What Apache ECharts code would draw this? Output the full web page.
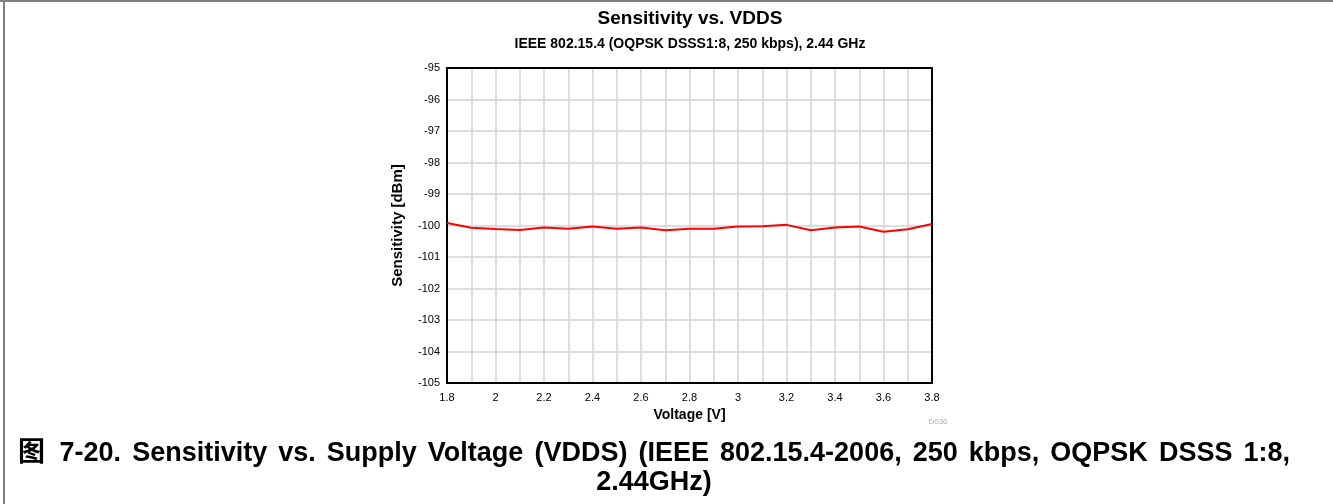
<!DOCTYPE html>
<html>
<head>
<meta charset="utf-8">
<script src="https://cdn.jsdelivr.net/npm/echarts@6/dist/echarts.min.js"></script>
<style>
  html, body { margin: 0; padding: 0; background: #fff; }
  #frame {
    position: absolute; left: 0; top: 0; width: 1333px; height: 504px;
    border-top: 2px solid #808080;
  }
  #edge {
    position: absolute; left: 3px; top: 0; width: 2px; height: 504px; background: #808080;
  }
  #chart { position: absolute; left: 0; top: 0; width: 1333px; height: 504px; }
  #caption {
    position: absolute; left: 18px; top: 438px; width: 1272px;
    font: bold 27px 'Liberation Sans', Arial, 'Noto Sans CJK SC', sans-serif;
    line-height: 29px; color: #000;
    text-align: justify; text-align-last: center;
  }
</style>
</head>
<body>
<div id="frame"></div>
<div id="edge"></div>
<div id="chart"></div>
<div id="caption">图 7-20. Sensitivity vs. Supply Voltage (VDDS) (IEEE 802.15.4-2006, 250 kbps, OQPSK DSSS 1:8, 2.44GHz)</div>
<script>
// supply voltage [V]
var voltage = [1.8, 1.9, 2.0, 2.1, 2.2, 2.3, 2.4, 2.5, 2.6, 2.7, 2.8,
               2.9, 3.0, 3.1, 3.2, 3.3, 3.4, 3.5, 3.6, 3.7, 3.8];
// sensitivity [dBm]
var sensitivity = [-99.92, -100.07, -100.11, -100.14, -100.06, -100.1, -100.03,
                   -100.1, -100.06, -100.15, -100.1, -100.1, -100.03, -100.02,
                   -99.98, -100.15, -100.06, -100.03, -100.2, -100.12, -99.95];

var font = "'Liberation Sans', Arial, 'Noto Sans CJK SC', sans-serif";
var gridStyle = { color: "#d3d3d3", width: 1.5 };
var frameLine = { show: true, lineStyle: { color: "#000", width: 2 } };

var points = [];
for (var i = 0; i < voltage.length; i++) {
  points.push([voltage[i], sensitivity[i]]);
}

var myChart = echarts.init(document.getElementById("chart"));
var option = {
  animation: false,
  textStyle: { fontFamily: font },
  title: [
    {
      text: "Sensitivity vs. VDDS",
      left: 690, top: 9, textAlign: "center", padding: 0,
      textStyle: { fontSize: 19, fontWeight: "bold", color: "#000", fontFamily: font }
    },
    {
      text: "IEEE 802.15.4 (OQPSK DSSS1:8, 250 kbps), 2.44 GHz",
      left: 690, top: 37, textAlign: "center", padding: 0,
      textStyle: { fontSize: 14, fontWeight: "bold", color: "#000", fontFamily: font }
    },
    {
      text: "D036",
      left: 938, top: 418, textAlign: "center", padding: 0,
      textStyle: { fontSize: 8, fontWeight: "normal", color: "#b0b0b0", fontFamily: font }
    }
  ],
  grid: {
    left: 447, top: 68, width: 485, height: 315,
    show: false
  },
  xAxis: [
    {
      type: "value",
      min: 1.8, max: 3.8, interval: 0.2,
      name: "Voltage [V]",
      nameLocation: "middle", nameGap: 25,
      nameTextStyle: { fontSize: 14, fontWeight: "bold", color: "#000" },
      axisLine: frameLine,
      axisTick: { show: false },
      minorTick: { show: false, splitNumber: 2 },
      axisLabel: { fontSize: 11, color: "#000", margin: 9 },
      splitLine: { show: true, lineStyle: gridStyle },
      minorSplitLine: { show: true, lineStyle: gridStyle },
      z: 3
    },
    {
      type: "value", position: "top",
      min: 1.8, max: 3.8,
      axisLine: frameLine,
      axisTick: { show: false },
      axisLabel: { show: false },
      splitLine: { show: false },
      z: 3
    }
  ],
  yAxis: [
    {
      type: "value",
      min: -105, max: -95, interval: 1,
      name: "Sensitivity [dBm]",
      nameLocation: "middle", nameGap: 42, nameRotate: 90,
      nameTextStyle: { fontSize: 15, fontWeight: "bold", color: "#000" },
      axisLine: frameLine,
      axisTick: { show: false },
      axisLabel: { fontSize: 11, color: "#000", margin: 7 },
      splitLine: { show: true, lineStyle: gridStyle },
      z: 3
    },
    {
      type: "value", position: "right",
      min: -105, max: -95,
      axisLine: frameLine,
      axisTick: { show: false },
      axisLabel: { show: false },
      splitLine: { show: false },
      z: 3
    }
  ],
  series: [
    {
      name: "Sensitivity",
      type: "line",
      xAxisIndex: 0, yAxisIndex: 0,
      data: points,
      showSymbol: false,
      symbol: "none",
      lineStyle: { color: "#ff0000", width: 2 },
      z: 5
    }
  ]
};
myChart.setOption(option);
</script>
</body>
</html>
